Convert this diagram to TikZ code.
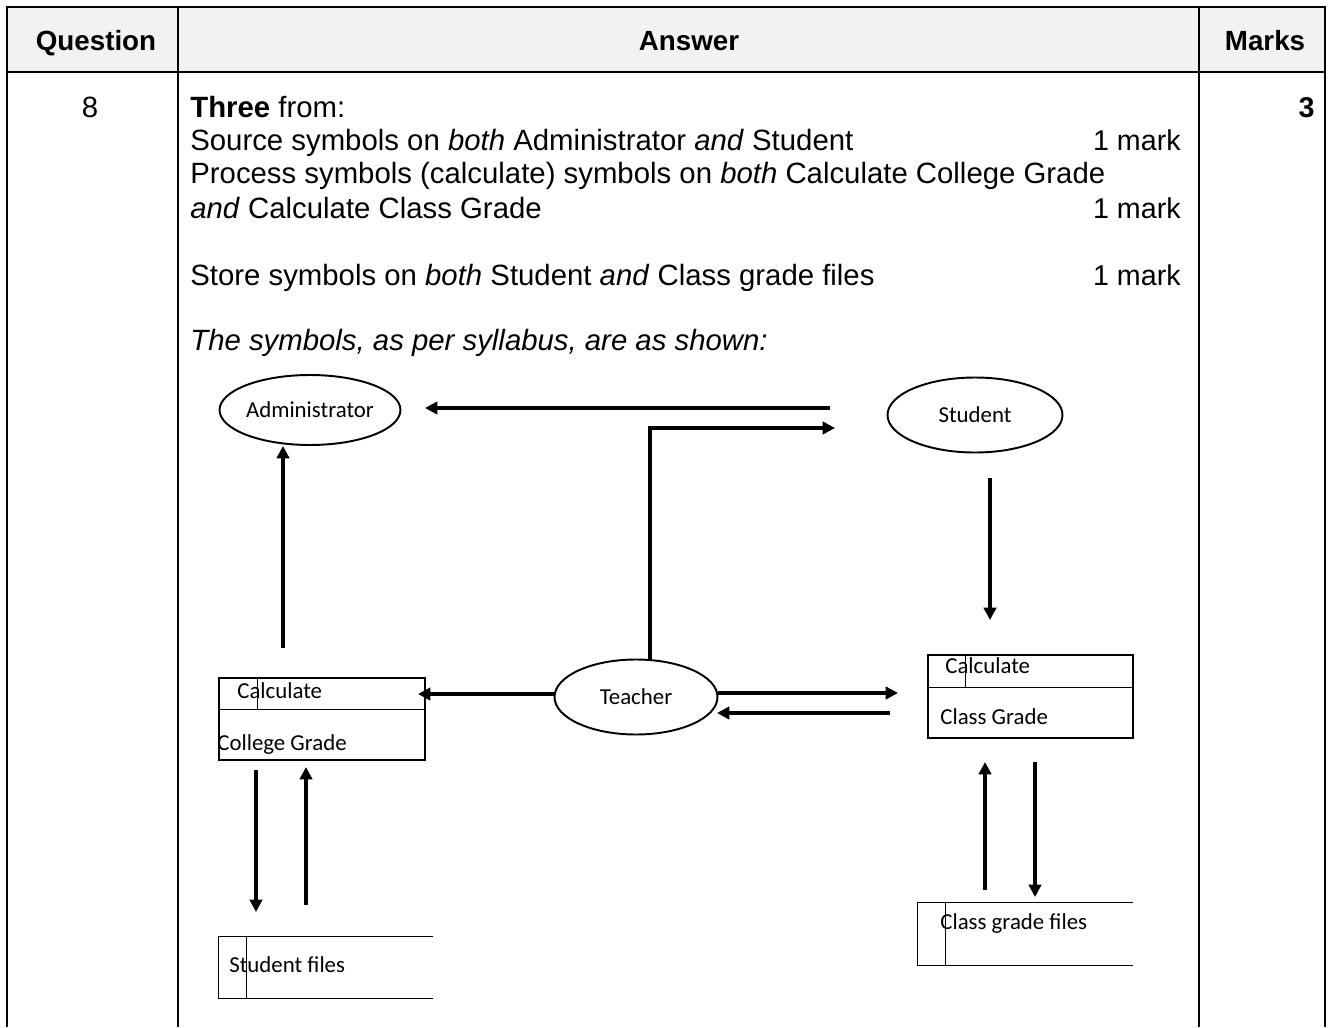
\documentclass[tikz,border=0pt]{standalone}
\usepackage{fontspec}
\setmainfont{Liberation Sans}
\newfontfamily\dfdfont{Carlito}
\usepackage{tikz}
\usetikzlibrary{shapes.geometric,arrows.meta}
\definecolor{headgray}{HTML}{F2F2F2}

\tikzset{
  head/.style={anchor=base, inner sep=0pt, font=\bfseries\fontsize{15.8}{18}\selectfont},
  body/.style={anchor=base west, inner sep=0pt, font=\fontsize{16.7}{19}\selectfont},
  marktext/.style={anchor=base east, inner sep=0pt, font=\fontsize{16.3}{19}\selectfont},
  entity/.style={draw, ellipse, line width=1.1pt, inner sep=0pt, font=\dfdfont\fontsize{13}{15}\selectfont},
  process/.style={draw, rectangle, line width=0.7pt, inner sep=0pt},
  store/.style={rectangle, inner sep=0pt},
  dfdtext/.style={anchor=base west, inner sep=0pt, font=\dfdfont\fontsize{13}{15}\selectfont},
  flow/.style={line width=1.8pt, -{Triangle[length=7pt,width=7pt]}},
}

\begin{document}
\begin{tikzpicture}[x=0.02cm, y=-0.02cm]
	\useasboundingbox (0,0) rectangle (1331,1027);

	% table
	\fill[headgray] (7,7) rectangle (1325,72);
	\draw[line width=1.3pt] (7,1027) -- (7,7) -- (1325,7) -- (1325,1027);
	\draw[line width=1.6pt] (7,72) -- (1325,72);
	\draw[line width=1.1pt] (178,7) -- (178,1027);
	\draw[line width=1.1pt] (1199,7) -- (1199,1027);

	\node[head] at (96,51) (hq) {Question};
	\node[head] at (689,51) (ha) {Answer};
	\node[head] at (1265,51) (hm) {Marks};

	\node[body, anchor=base] at (90,118) (qnum) {8};
	\node[marktext, font=\bfseries\fontsize{16.3}{19}\selectfont] at (1315,118) (total) {3};

	\node[body] at (190,118) (l1) {\textbf{Three} from:};
	\node[body] at (190,151) (l2) {Source symbols on \textit{both} Administrator \textit{and} Student};
	\node[marktext] at (1181,151) (m1) {1 mark};
	\node[body] at (190,184) (l3) {Process symbols (calculate) symbols on \textit{both} Calculate College Grade};
	\node[body] at (190,218) (l4) {\textit{and} Calculate Class Grade};
	\node[marktext] at (1181,218) (m2) {1 mark};
	\node[body] at (190,285) (l5) {Store symbols on \textit{both} Student \textit{and} Class grade files};
	\node[marktext] at (1181,285) (m3) {1 mark};
	\node[body] at (190,350) (l6) {\textit{The symbols, as per syllabus, are as shown:}};

	% external entities
	\node[entity, minimum width=3.28cm, minimum height=1.4cm] at (310,410) (admin) {Administrator};
	\node[entity, minimum width=3.5cm, minimum height=1.5cm] at (975,415) (student) {Student};
	\node[entity, minimum width=3.26cm, minimum height=1.5cm] at (636,697) (teacher) {Teacher};

	% processes
	\node[process, minimum width=4.12cm, minimum height=1.64cm] at (322,719) (college) {};
	\draw[line width=0.7pt] ([yshift=-0.64cm]college.north west) -- ([yshift=-0.64cm]college.north east);
	\draw[line width=0.7pt] ([xshift=0.78cm]college.north west) -- ([xshift=0.78cm,yshift=-0.64cm]college.north west);
	\node[dfdtext] at (237,698) (colt1) {Calculate};
	\node[dfdtext] at (217,750) (colt2) {College Grade};

	\node[process, minimum width=4.1cm, minimum height=1.66cm] at (1030.5,696.5) (class) {};
	\draw[line width=0.7pt] ([yshift=-0.66cm]class.north west) -- ([yshift=-0.66cm]class.north east);
	\draw[line width=0.7pt] ([xshift=0.76cm]class.north west) -- ([xshift=0.76cm,yshift=-0.66cm]class.north west);
	\node[dfdtext] at (945,673) (clat1) {Calculate};
	\node[dfdtext] at (940,724) (clat2) {Class Grade};

	% data stores
	\node[store, minimum width=4.28cm, minimum height=1.22cm] at (326,967.5) (sfiles) {};
	\draw[line width=0.7pt] (sfiles.north east) -- (sfiles.north west) -- (sfiles.south west) -- (sfiles.south east);
	\draw[line width=0.7pt] ([xshift=0.56cm]sfiles.north west) -- ([xshift=0.56cm]sfiles.south west);
	\node[dfdtext] at (229,972) (sft) {Student files};

	\node[store, minimum width=4.3cm, minimum height=1.24cm] at (1025.5,934) (cfiles) {};
	\draw[line width=0.7pt] (cfiles.north east) -- (cfiles.north west) -- (cfiles.south west) -- (cfiles.south east);
	\draw[line width=0.7pt] ([xshift=0.56cm]cfiles.north west) -- ([xshift=0.56cm]cfiles.south west);
	\node[dfdtext] at (940,929) (cft) {Class grade files};

	% flows
	\coordinate (a1) at (830,408);
	\coordinate (a2) at (425,408);
	\draw[flow] (a1) -- (a2);

	\coordinate (bend) at (650,428);
	\coordinate (t2) at (835,428);
	\draw[flow] (teacher.north -| bend) -- (bend) -- (t2);

	\coordinate (s1) at (990,478);
	\coordinate (s2) at (990,620);
	\draw[flow] (s1) -- (s2);

	\coordinate (u1) at (283,648);
	\draw[flow] (u1) -- (admin.south -| u1);

	\coordinate (c1) at (418,694);
	\draw[flow] (teacher.west |- c1) -- (c1);

	\coordinate (r1) at (898,693);
	\draw[flow] (teacher.east |- r1) -- (r1);
	\coordinate (r2) at (890,713);
	\coordinate (r3) at (717,713);
	\draw[flow] (r2) -- (r3);

	\coordinate (d1) at (256,770);
	\coordinate (d2) at (256,912);
	\draw[flow] (d1) -- (d2);
	\coordinate (e1) at (306,905);
	\coordinate (e2) at (306,767);
	\draw[flow] (e1) -- (e2);

	\coordinate (f1) at (985,890);
	\coordinate (f2) at (985,762);
	\draw[flow] (f1) -- (f2);
	\coordinate (g1) at (1035,762);
	\coordinate (g2) at (1035,897);
	\draw[flow] (g1) -- (g2);
\end{tikzpicture}
\end{document}
